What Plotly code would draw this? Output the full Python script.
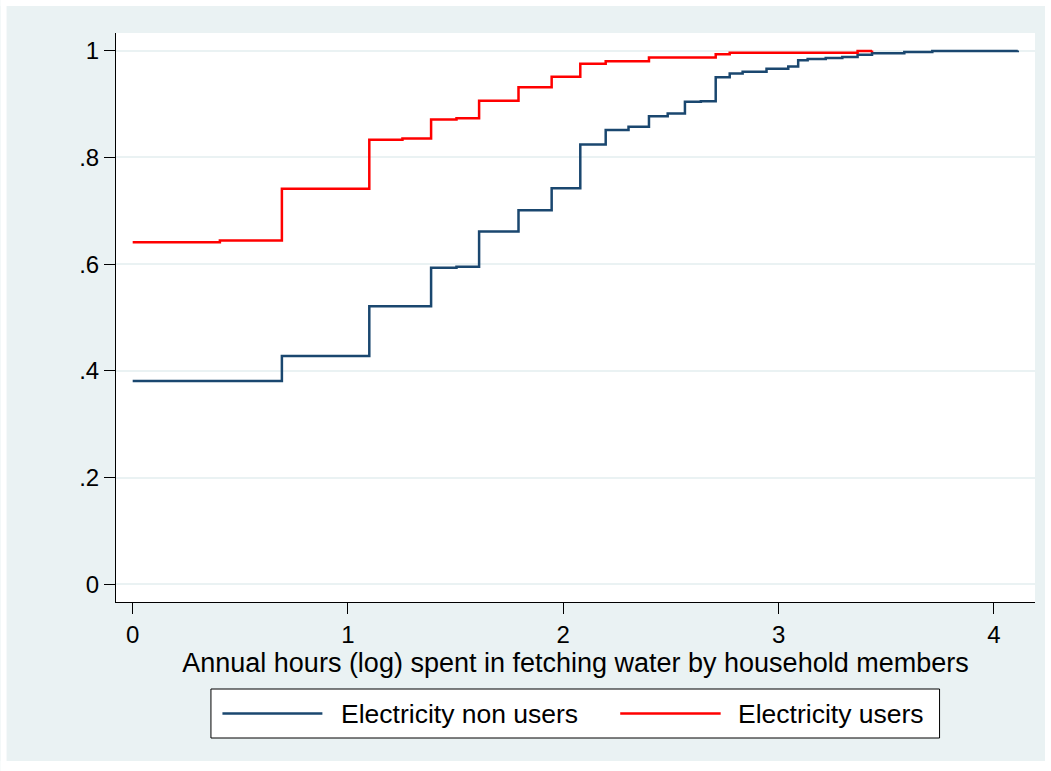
import plotly.graph_objects as go

# ---- data ----
series_names = ["Electricity non users", "Electricity users"]

nonusers_x = [0, 0.693, 1.099, 1.386, 1.504, 1.609, 1.792, 1.946, 2.079, 2.197,
              2.303, 2.398, 2.485, 2.565, 2.639, 2.708, 2.773, 2.833, 2.944, 3.045,
              3.091, 3.135, 3.219, 3.296, 3.367, 3.434, 3.584, 3.714, 4.111]
nonusers_y = [0.381, 0.428, 0.521, 0.593, 0.595, 0.661, 0.701, 0.742, 0.824, 0.851,
              0.857, 0.877, 0.882, 0.904, 0.905, 0.950, 0.957, 0.960, 0.966, 0.970,
              0.982, 0.984, 0.986, 0.988, 0.992, 0.995, 0.997, 0.999, 1.000]

users_x = [0, 0.405, 0.693, 1.099, 1.253, 1.386, 1.504, 1.609, 1.792, 1.946,
           2.079, 2.197, 2.398, 2.708, 2.773, 3.367, 3.434]
users_y = [0.641, 0.644, 0.741, 0.833, 0.835, 0.871, 0.873, 0.906, 0.931, 0.951,
           0.975, 0.980, 0.987, 0.993, 0.996, 0.999, 1.000]

y_tickvals = [0, 0.2, 0.4, 0.6, 0.8, 1]
y_ticktext = ["0", ".2", ".4", ".6", ".8", "1"]
x_tickvals = [0, 1, 2, 3, 4]
x_ticktext = ["0", "1", "2", "3", "4"]
x_title = "Annual hours (log) spent in fetching water by household members"

# ---- style ----
W, H = 1051, 771
PL, PR, PT, PB = 115.5, 1035, 33, 602   # plot area in pixels
BG = "#eaf2f3"
NAVY = "#1a476f"
RED = "#ff0000"
FONT = "Liberation Sans, Arial, sans-serif"
colors = [NAVY, RED]


def px(x):
    return (x - PL) / (PR - PL)


def py(y):
    return (PB - y) / (PB - PT)


fig = go.Figure()
for name, xs, ys, c in [(series_names[0], nonusers_x, nonusers_y, colors[0]),
                        (series_names[1], users_x, users_y, colors[1])]:
    fig.add_trace(go.Scatter(x=xs, y=ys, mode="lines", name=name,
                             line=dict(color=c, width=2.5, shape="hv"),
                             showlegend=False, hoverinfo="x+y+name"))

shapes = []
annotations = []
# white outer border around the light background
for x0, x1, y0, y1 in [(0, W, 0, 6), (0, W, 761, H), (0, 6, 0, H), (1045, W, 0, H)]:
    shapes.append(dict(type="rect", xref="paper", yref="paper",
                       x0=px(x0), x1=px(x1), y0=py(y1), y1=py(y0),
                       fillcolor="white", line=dict(width=0), layer="above"))

# legend box
LT, LB = 689, 738
shapes.append(dict(type="rect", xref="paper", yref="paper",
                   x0=px(210.5), x1=px(939.5), y0=py(LB), y1=py(LT),
                   fillcolor="white", line=dict(color="black", width=1), layer="above"))
LY = (LT + LB) / 2
for (lx0, lx1, tx), name, c in zip([(222, 322, 339), (620, 720.5, 736)], series_names, colors):
    shapes.append(dict(type="line", xref="paper", yref="paper",
                       x0=px(lx0), x1=px(lx1), y0=py(LY), y1=py(LY),
                       line=dict(color=c, width=2.5), layer="above"))
    annotations.append(dict(xref="paper", yref="paper", x=px(tx), y=py(LY),
                            xanchor="left", yanchor="middle", showarrow=False,
                            text=name, font=dict(family=FONT, size=26.5, color="black")))

fig.update_layout(
    width=W, height=H,
    margin=dict(l=PL, r=W - PR, t=PT, b=H - PB, pad=0),
    paper_bgcolor=BG, plot_bgcolor="white",
    font=dict(family=FONT, color="black"),
    shapes=shapes, annotations=annotations,
    showlegend=False,
    xaxis=dict(range=[-0.0775, 4.191], tickmode="array", tickvals=x_tickvals,
               ticktext=x_ticktext, ticks="outside", ticklen=11, tickwidth=1,
               tickcolor="black", showline=True, linecolor="black", linewidth=1,
               showgrid=False, zeroline=False, tickfont=dict(size=24),
               title=dict(text=x_title, font=dict(size=27), standoff=0)),
    yaxis=dict(range=[-0.0328, 1.0328], tickmode="array", tickvals=y_tickvals,
               ticktext=y_ticktext, ticks="outside", ticklen=11, tickwidth=1,
               tickcolor="black", showline=True, linecolor="black", linewidth=1,
               showgrid=True, gridcolor=BG, gridwidth=2, zeroline=False,
               tickfont=dict(size=24)),
)

fig.write_html("out.html")
